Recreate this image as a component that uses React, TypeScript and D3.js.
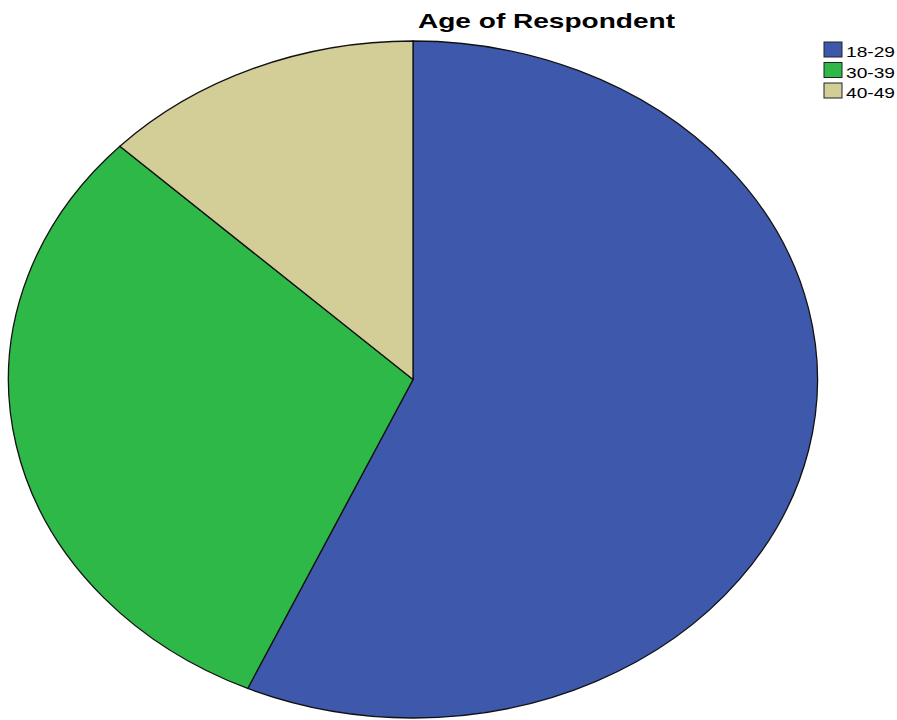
import React from "react";
import * as d3 from "d3";

const categories = ["18-29", "30-39", "40-49"];
const percents = [56.7, 30.4, 12.9];
const colors = ["#3E58AC", "#2EB848", "#D3CE97"];
const title = "Age of Respondent";

const W = 897;
const H = 720;

export default function App() {
  const cx = 413;
  const cy = 379.5;
  const rx = 404.5;
  const ry = 338.5;
  const data = categories.map((c, i) => ({ c, v: percents[i], color: colors[i] }));
  const pie = d3.pie<any>().value((d) => d.v).sort(null);
  const arcs = pie(data);
  const arc = d3.arc<any>().innerRadius(0).outerRadius(ry);

  return (
    <svg width={W} height={H} style={{ position: "absolute", left: 0, top: 0, background: "#fff" }}>
      <g transform={`translate(${cx},${cy}) scale(${rx / ry},1)`}>
        {arcs.map((a, i) => (
          <path
            key={i}
            d={arc(a) as string}
            fill={a.data.color}
            stroke="#111"
            strokeWidth={1.3}
            vectorEffect="non-scaling-stroke"
          />
        ))}
      </g>
      <text
        x={418}
        y={28}
        fontFamily="Liberation Sans, Arial, sans-serif"
        fontWeight="bold"
        fontSize={21}
        textLength={257}
        lengthAdjust="spacingAndGlyphs"
        fill="#000"
      >
        {title}
      </text>
      <g>
        {categories.map((c, i) => (
          <g key={c} transform={`translate(824,${42 + i * 20.5})`}>
            <rect x={0} y={0} width={18} height={15} fill={colors[i]} stroke="#222" strokeWidth={1} />
            <text
              x={22}
              y={15}
              fontFamily="Liberation Sans, Arial, sans-serif"
              fontSize={15}
              textLength={49}
              lengthAdjust="spacingAndGlyphs"
              fill="#000"
            >
              {c}
            </text>
          </g>
        ))}
      </g>
    </svg>
  );
}
